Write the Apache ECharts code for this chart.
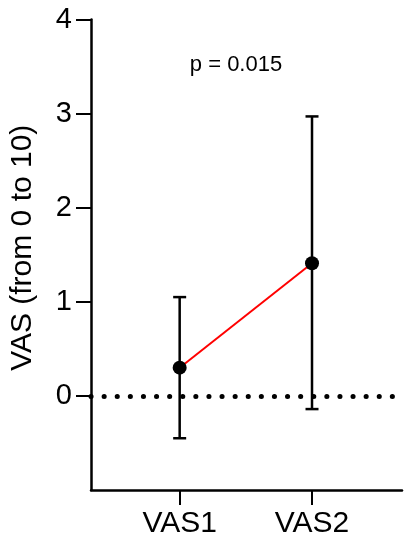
<!DOCTYPE html>
<html>
<head>
<meta charset="utf-8">
<script src="https://cdn.jsdelivr.net/npm/echarts@6/dist/echarts.min.js"></script>
<style>
  html, body { margin: 0; padding: 0; background: #fff; }
  #chart { width: 410px; height: 550px; }
</style>
</head>
<body>
<div id="chart"></div>
<script>
// categories and values
const categories = ['VAS1', 'VAS2']
const xPos = [1, 2]
const means = [0.3, 1.41]
const lower = [-0.45, -0.14]
const upper = [1.05, 2.97]
const yTicks = [0, 1, 2, 3, 4]
const pText = 'p = 0.015'

const font = 'Liberation Sans, Arial, sans-serif'

const meanData = xPos.map((x, i) => [x, means[i]])
const barData = xPos.map((x, i) => [x, lower[i], upper[i]])

const chart = echarts.init(document.getElementById('chart'))

const renderErrorBar = (params, api) => {
  const x = api.value(0)
  const lo = api.coord([x, api.value(1)])
  const hi = api.coord([x, api.value(2)])
  const half = 6.5
  const style = { stroke: '#000', lineWidth: 2.5 }
  return {
    type: 'group',
    children: [
      { type: 'line', shape: { x1: lo[0], y1: lo[1], x2: hi[0], y2: hi[1] }, style },
      { type: 'line', shape: { x1: hi[0] - half, y1: hi[1], x2: hi[0] + half, y2: hi[1] }, style },
      { type: 'line', shape: { x1: lo[0] - half, y1: lo[1], x2: lo[0] + half, y2: lo[1] }, style },
    ],
  }
}

const option = {
  animation: false,
  backgroundColor: '#fff',
  grid: {
    left: 87,
    right: 8,
    top: 19.5,
    bottom: 60,
  },
  xAxis: {
    type: 'value',
    min: 0.33,
    max: 2.68,
    splitLine: { show: false },
    axisLine: { onZero: false, lineStyle: { color: '#000', width: 2.5 } },
    axisTick: {
      customValues: xPos,
      length: 15,
      lineStyle: { color: '#000', width: 2 },
    },
    axisLabel: {
      customValues: xPos,
      formatter: (v) => categories[xPos.indexOf(v)],
      color: '#000',
      fontSize: 30,
      fontFamily: font,
      margin: 19,
    },
  },
  yAxis: {
    type: 'value',
    min: -1,
    max: 4,
    interval: 1,
    name: 'VAS (from 0 to 10)',
    nameLocation: 'middle',
    nameGap: 53,
    nameTextStyle: {
      color: '#000',
      fontSize: 30,
      fontFamily: font,
      padding: [0, 0, 0, 14],
    },
    splitLine: { show: false },
    axisLine: { onZero: false, lineStyle: { color: '#000', width: 2.5 } },
    axisTick: {
      customValues: yTicks,
      length: 15,
      lineStyle: { color: '#000', width: 2 },
    },
    axisLabel: {
      customValues: yTicks,
      color: '#000',
      fontSize: 29,
      fontFamily: font,
      margin: 19,
    },
  },
  graphic: [
    {
      type: 'text',
      x: 236,
      y: 65,
      style: {
        text: pText,
        fill: '#000',
        fontSize: 22,
        fontFamily: font,
        textAlign: 'center',
        textVerticalAlign: 'middle',
      },
    },
  ],
  series: [
    {
      type: 'custom',
      renderItem: renderErrorBar,
      data: barData,
      z: 2,
      silent: true,
    },
    {
      type: 'line',
      data: meanData,
      z: 3,
      symbol: 'circle',
      symbolSize: 14,
      itemStyle: { color: '#000' },
      lineStyle: { color: '#ff0000', width: 2 },
      markLine: {
        silent: true,
        symbol: 'none',
        label: { show: false },
        lineStyle: {
          color: '#000',
          width: 5,
          type: [0.1, 13],
          cap: 'round',
        },
        data: [{ yAxis: 0 }],
      },
    },
  ],
}

chart.setOption(option)
</script>
</body>
</html>
